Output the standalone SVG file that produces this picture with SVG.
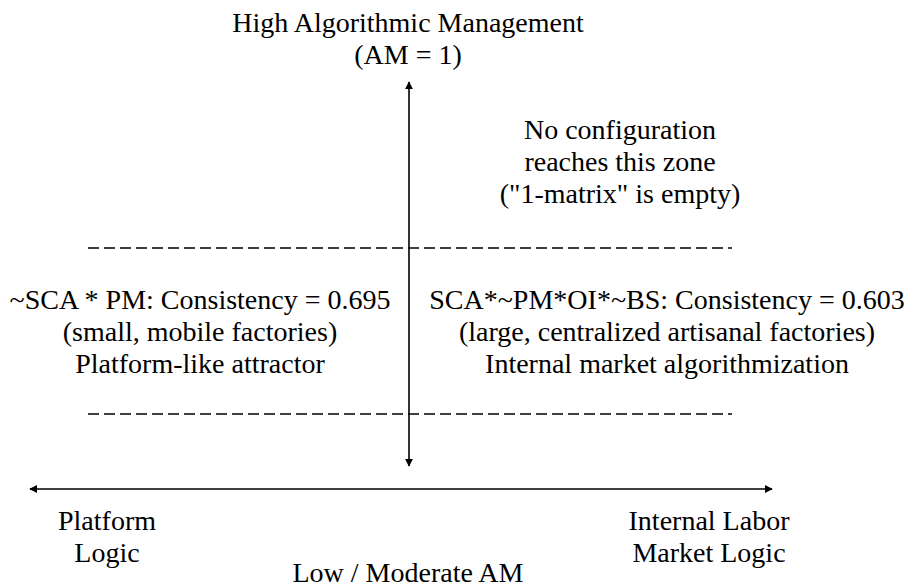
<svg xmlns="http://www.w3.org/2000/svg" width="915" height="588" viewBox="0 0 915 588">
<style>
text{font-family:"Liberation Serif","Times New Roman",serif;font-size:28px;fill:#000;text-anchor:middle}
.axis{stroke:#000;stroke-width:1.6;fill:none}
.dash{stroke:#000;stroke-width:1.4;stroke-dasharray:11 5;fill:none}
</style>
<defs>
<marker id="ah" viewBox="0 0 10 10" refX="9" refY="5" markerWidth="8" markerHeight="8" orient="auto-start-reverse" markerUnits="userSpaceOnUse"><path d="M0,0 L10,5 L0,10 z" fill="#000"/></marker>
</defs>
<g id="connectors">
<line class="axis" x1="409" y1="466" x2="409" y2="82" marker-start="url(#ah)" marker-end="url(#ah)"/>
<line class="axis" x1="30" y1="489" x2="772" y2="489" marker-start="url(#ah)" marker-end="url(#ah)"/>
<line class="dash" x1="88" y1="248" x2="732" y2="248"/>
<line class="dash" x1="88" y1="414" x2="732" y2="414"/>
</g>
<g id="top-label"><text x="408" y="32">High Algorithmic Management</text><text x="408" y="64">(AM = 1)</text></g>
<g id="empty-zone"><text x="620" y="139">No configuration</text><text x="620" y="171">reaches this zone</text><text x="620" y="203">("1-matrix" is empty)</text></g>
<g id="left-config"><text x="200" y="309">~SCA * PM: Consistency = 0.695</text><text x="200" y="341">(small, mobile factories)</text><text x="200" y="373">Platform-like attractor</text></g>
<g id="right-config"><text x="667" y="309">SCA*~PM*OI*~BS: Consistency = 0.603</text><text x="667" y="341">(large, centralized artisanal factories)</text><text x="667" y="373">Internal market algorithmization</text></g>
<g id="left-label"><text x="107" y="530">Platform</text><text x="107" y="562">Logic</text></g>
<g id="right-label"><text x="709" y="530">Internal Labor</text><text x="709" y="562">Market Logic</text></g>
<g id="bottom-label"><text x="408" y="582">Low / Moderate AM</text></g>
</svg>
